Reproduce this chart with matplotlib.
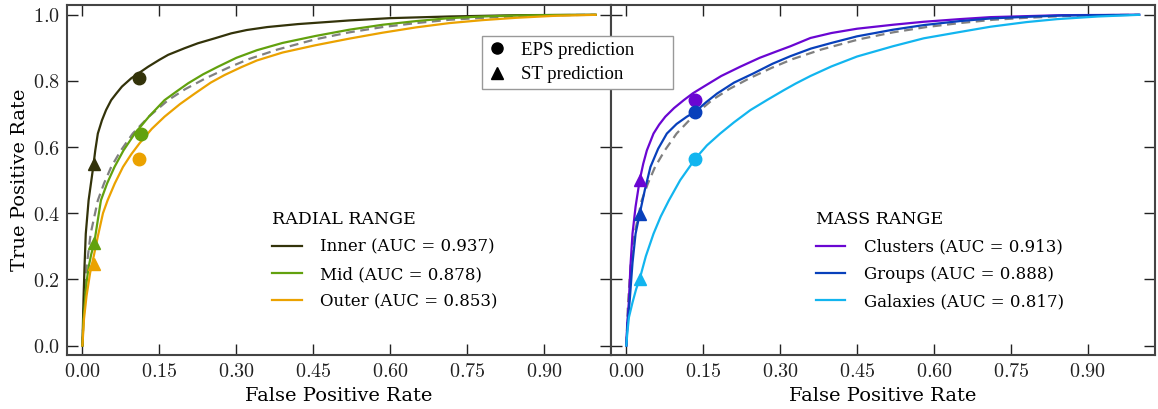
import matplotlib
matplotlib.use('Agg')

import matplotlib.pyplot as plt
from matplotlib.lines import Line2D
from matplotlib.ticker import FuncFormatter


# ===============================
# DATA
# ===============================
# left panel: radial range
inner_fpr = [0.0, 0.002, 0.004, 0.0065, 0.012, 0.021, 0.025, 0.030, 0.038, 0.046, 0.056, 0.066,
             0.077, 0.095, 0.128, 0.150, 0.167, 0.199, 0.225, 0.258, 0.290, 0.320, 0.36, 0.42,
             0.52, 0.60, 0.715, 0.85, 1.0]
inner_tpr = [0.0, 0.135, 0.237, 0.338, 0.439, 0.540, 0.590, 0.641, 0.681, 0.712, 0.742, 0.762,
             0.783, 0.808, 0.843, 0.864, 0.879, 0.899, 0.914, 0.929, 0.944, 0.954, 0.963, 0.972,
             0.983, 0.990, 0.995, 0.999, 1.0]

mid_fpr = [0.0, 0.002, 0.005, 0.008, 0.012, 0.017, 0.023, 0.029, 0.036, 0.048, 0.0625, 0.080,
           0.102, 0.13, 0.160, 0.185, 0.206, 0.235, 0.264, 0.30, 0.34, 0.39, 0.454, 0.52, 0.585,
           0.65, 0.715, 0.78, 0.845, 0.92, 1.0]
mid_tpr = [0.0, 0.08, 0.135, 0.19, 0.237, 0.275, 0.31, 0.37, 0.439, 0.49, 0.540, 0.59,
           0.641, 0.693, 0.742, 0.770, 0.793, 0.820, 0.843, 0.870, 0.893, 0.915, 0.936, 0.955, 0.970,
           0.981, 0.990, 0.995, 0.998, 0.9995, 1.0]

outer_fpr = [0.0, 0.003, 0.008, 0.015, 0.022, 0.030, 0.040, 0.049, 0.063, 0.079, 0.095, 0.111,
             0.135, 0.160, 0.19, 0.219, 0.25, 0.277, 0.31, 0.34, 0.39, 0.454, 0.52, 0.585, 0.65,
             0.715, 0.78, 0.845, 0.92, 1.0]
outer_tpr = [0.0, 0.08, 0.15, 0.22, 0.27, 0.33, 0.40, 0.439, 0.49, 0.540, 0.578, 0.611,
             0.655, 0.692, 0.730, 0.762, 0.795, 0.818, 0.842, 0.862, 0.886, 0.908, 0.928, 0.946, 0.962,
             0.975, 0.984, 0.991, 0.997, 1.0]

# dashed reference curve (same in both panels)
base_fpr = [0.0, 0.003, 0.008, 0.016, 0.030, 0.042, 0.056, 0.075, 0.098, 0.13, 0.167, 0.20,
            0.24, 0.284, 0.324, 0.38, 0.454, 0.52, 0.585, 0.65, 0.715, 0.78, 0.85, 0.92, 1.0]
base_tpr = [0.0, 0.12, 0.237, 0.338, 0.439, 0.49, 0.540, 0.59, 0.641, 0.693, 0.742, 0.775,
            0.808, 0.840, 0.866, 0.895, 0.926, 0.947, 0.963, 0.975, 0.985, 0.991, 0.996, 0.999, 1.0]

# right panel: mass range
clus_fpr = [0.0, 0.002, 0.005, 0.008, 0.012, 0.018, 0.026, 0.033, 0.040, 0.053, 0.064, 0.076,
            0.093, 0.112, 0.13, 0.151, 0.185, 0.222, 0.26, 0.294, 0.32, 0.359, 0.40, 0.45, 0.52,
            0.58, 0.65, 0.71, 0.78, 0.85, 1.0]
clus_tpr = [0.0, 0.07, 0.135, 0.24, 0.338, 0.42, 0.500, 0.55, 0.590, 0.641, 0.668, 0.692,
            0.718, 0.742, 0.763, 0.783, 0.815, 0.843, 0.870, 0.890, 0.905, 0.930, 0.945, 0.958, 0.970,
            0.979, 0.987, 0.993, 0.996, 0.999, 1.0]

grp_fpr = [0.0, 0.002, 0.0065, 0.012, 0.018, 0.026, 0.036, 0.047, 0.062, 0.079, 0.098, 0.118,
           0.1345, 0.155, 0.177, 0.21, 0.248, 0.285, 0.320, 0.36, 0.40, 0.45, 0.52, 0.58, 0.65,
           0.71, 0.78, 0.85, 1.0]
grp_tpr = [0.0, 0.06, 0.135, 0.25, 0.338, 0.398, 0.47, 0.540, 0.595, 0.641, 0.670, 0.692,
           0.707, 0.735, 0.762, 0.795, 0.823, 0.852, 0.875, 0.898, 0.915, 0.935, 0.955, 0.969, 0.981,
           0.989, 0.994, 0.998, 1.0]

gal_fpr = [0.0, 0.002, 0.005, 0.012, 0.019, 0.026, 0.038, 0.053, 0.067, 0.083, 0.105, 0.1345,
           0.157, 0.183, 0.21, 0.242, 0.275, 0.307, 0.33, 0.359, 0.40, 0.45, 0.52, 0.58, 0.65,
           0.71, 0.78, 0.84, 0.92, 1.0]
gal_tpr = [0.0, 0.04, 0.085, 0.13, 0.17, 0.201, 0.27, 0.338, 0.39, 0.439, 0.50, 0.565,
           0.605, 0.641, 0.675, 0.712, 0.743, 0.772, 0.792, 0.815, 0.844, 0.874, 0.905, 0.929, 0.948,
           0.964, 0.978, 0.987, 0.995, 1.0]

# prediction markers (circle = EPS, triangle = ST)
radial_eps_x = [0.111, 0.115, 0.111]
radial_eps_y = [0.810, 0.640, 0.565]
radial_st_x = [0.022, 0.023, 0.023]
radial_st_y = [0.550, 0.310, 0.245]

mass_eps_x = [0.1345, 0.1345, 0.1345]
mass_eps_y = [0.742, 0.707, 0.565]
mass_st_x = [0.026, 0.026, 0.026]
mass_st_y = [0.500, 0.398, 0.201]

radial_labels = ['Inner (AUC = 0.937)', 'Mid (AUC = 0.878)', 'Outer (AUC = 0.853)']
mass_labels = ['Clusters (AUC = 0.913)', 'Groups (AUC = 0.888)', 'Galaxies (AUC = 0.817)']

radial_colors = ['#33330a', '#62a10e', '#eba200']
mass_colors = ['#6a06d2', '#0840bb', '#12b5ef']

x_ticks = [0.00, 0.15, 0.30, 0.45, 0.60, 0.75, 0.90]
y_ticks = [0.0, 0.2, 0.4, 0.6, 0.8, 1.0]


# ===============================
# STYLE
# ===============================
plt.rcParams['font.family'] = ['DejaVu Serif']
plt.rcParams['mathtext.fontset'] = 'cm'

fig = plt.figure(figsize=(11.58, 4.09), dpi=100)
ax1 = fig.add_axes([0.0579, 0.131, 0.4697, 0.857])
ax2 = fig.add_axes([0.5276, 0.131, 0.4694, 0.857])

spine_col = '#444444'


def style_axis(ax, show_y):
    ax.set_xlim(-0.03, 1.03)
    ax.set_ylim(-0.03, 1.03)
    ax.set_xticks(x_ticks)
    ax.set_yticks(y_ticks)
    ax.xaxis.set_major_formatter(FuncFormatter(lambda v, p: r'$%.2f$' % v))
    ax.yaxis.set_major_formatter(FuncFormatter(lambda v, p: r'$%.1f$' % v))
    ax.tick_params(direction='in', length=8, width=1.0, color='#222222',
                   top=True, right=True, labelsize=14.5, labelcolor='#222222',
                   labelleft=show_y, pad=5)
    for s in ax.spines.values():
        s.set_color(spine_col)
        s.set_linewidth(1.5)
    ax.set_xlabel('False Positive Rate', fontsize=14, labelpad=4)


def draw_panel(ax, curves, colors, labels, eps_x, eps_y, st_x, st_y, title):
    ax.plot(base_fpr, base_tpr, '--', color='#808080', lw=1.6, dashes=(4, 2.5), zorder=2)
    handles = []
    for (fx, ty), c, lab in zip(curves, colors, labels):
        h, = ax.plot(fx, ty, '-', color=c, lw=1.6, label=lab, zorder=3)
        handles.append(h)
    for i, c in enumerate(colors):
        ax.plot(eps_x[i], eps_y[i], 'o', color=c, ms=9, zorder=4)
        ax.plot(st_x[i], st_y[i], '^', color=c, ms=9, zorder=4)
    leg = ax.legend(handles=handles, title=title, loc='lower left',
                    bbox_to_anchor=(0.35, 0.086), frameon=False, fontsize=12,
                    title_fontsize=12.5, handlelength=1.75, handletextpad=1.1,
                    labelspacing=0.62)
    leg._legend_box.align = 'left'


style_axis(ax1, True)
style_axis(ax2, False)
ax1.set_ylabel('True Positive Rate', fontsize=14, labelpad=3)

draw_panel(ax1, [(inner_fpr, inner_tpr), (mid_fpr, mid_tpr), (outer_fpr, outer_tpr)],
           radial_colors, radial_labels, radial_eps_x, radial_eps_y,
           radial_st_x, radial_st_y, 'RADIAL RANGE')
draw_panel(ax2, [(clus_fpr, clus_tpr), (grp_fpr, grp_tpr), (gal_fpr, gal_tpr)],
           mass_colors, mass_labels, mass_eps_x, mass_eps_y,
           mass_st_x, mass_st_y, 'MASS RANGE')

# marker legend shared by both panels
mk_handles = [
    Line2D([], [], marker='o', color='black', ls='none', ms=8),
    Line2D([], [], marker='^', color='black', ls='none', ms=8),
]
fig.legend(mk_handles, ['EPS prediction', 'ST prediction'], loc='upper left',
           bbox_to_anchor=(482 / 1158, 1 - 36 / 409, 191 / 1158, 0.0), mode='expand',
           borderaxespad=0.0, prop={'family': 'Liberation Serif', 'size': 13.5},
           frameon=True, fancybox=False, edgecolor='#999999', framealpha=1,
           handlelength=1.0, handletextpad=0.8, borderpad=0.3, labelspacing=0.4)

plt.savefig('out.png', dpi=100)
plt.close()
